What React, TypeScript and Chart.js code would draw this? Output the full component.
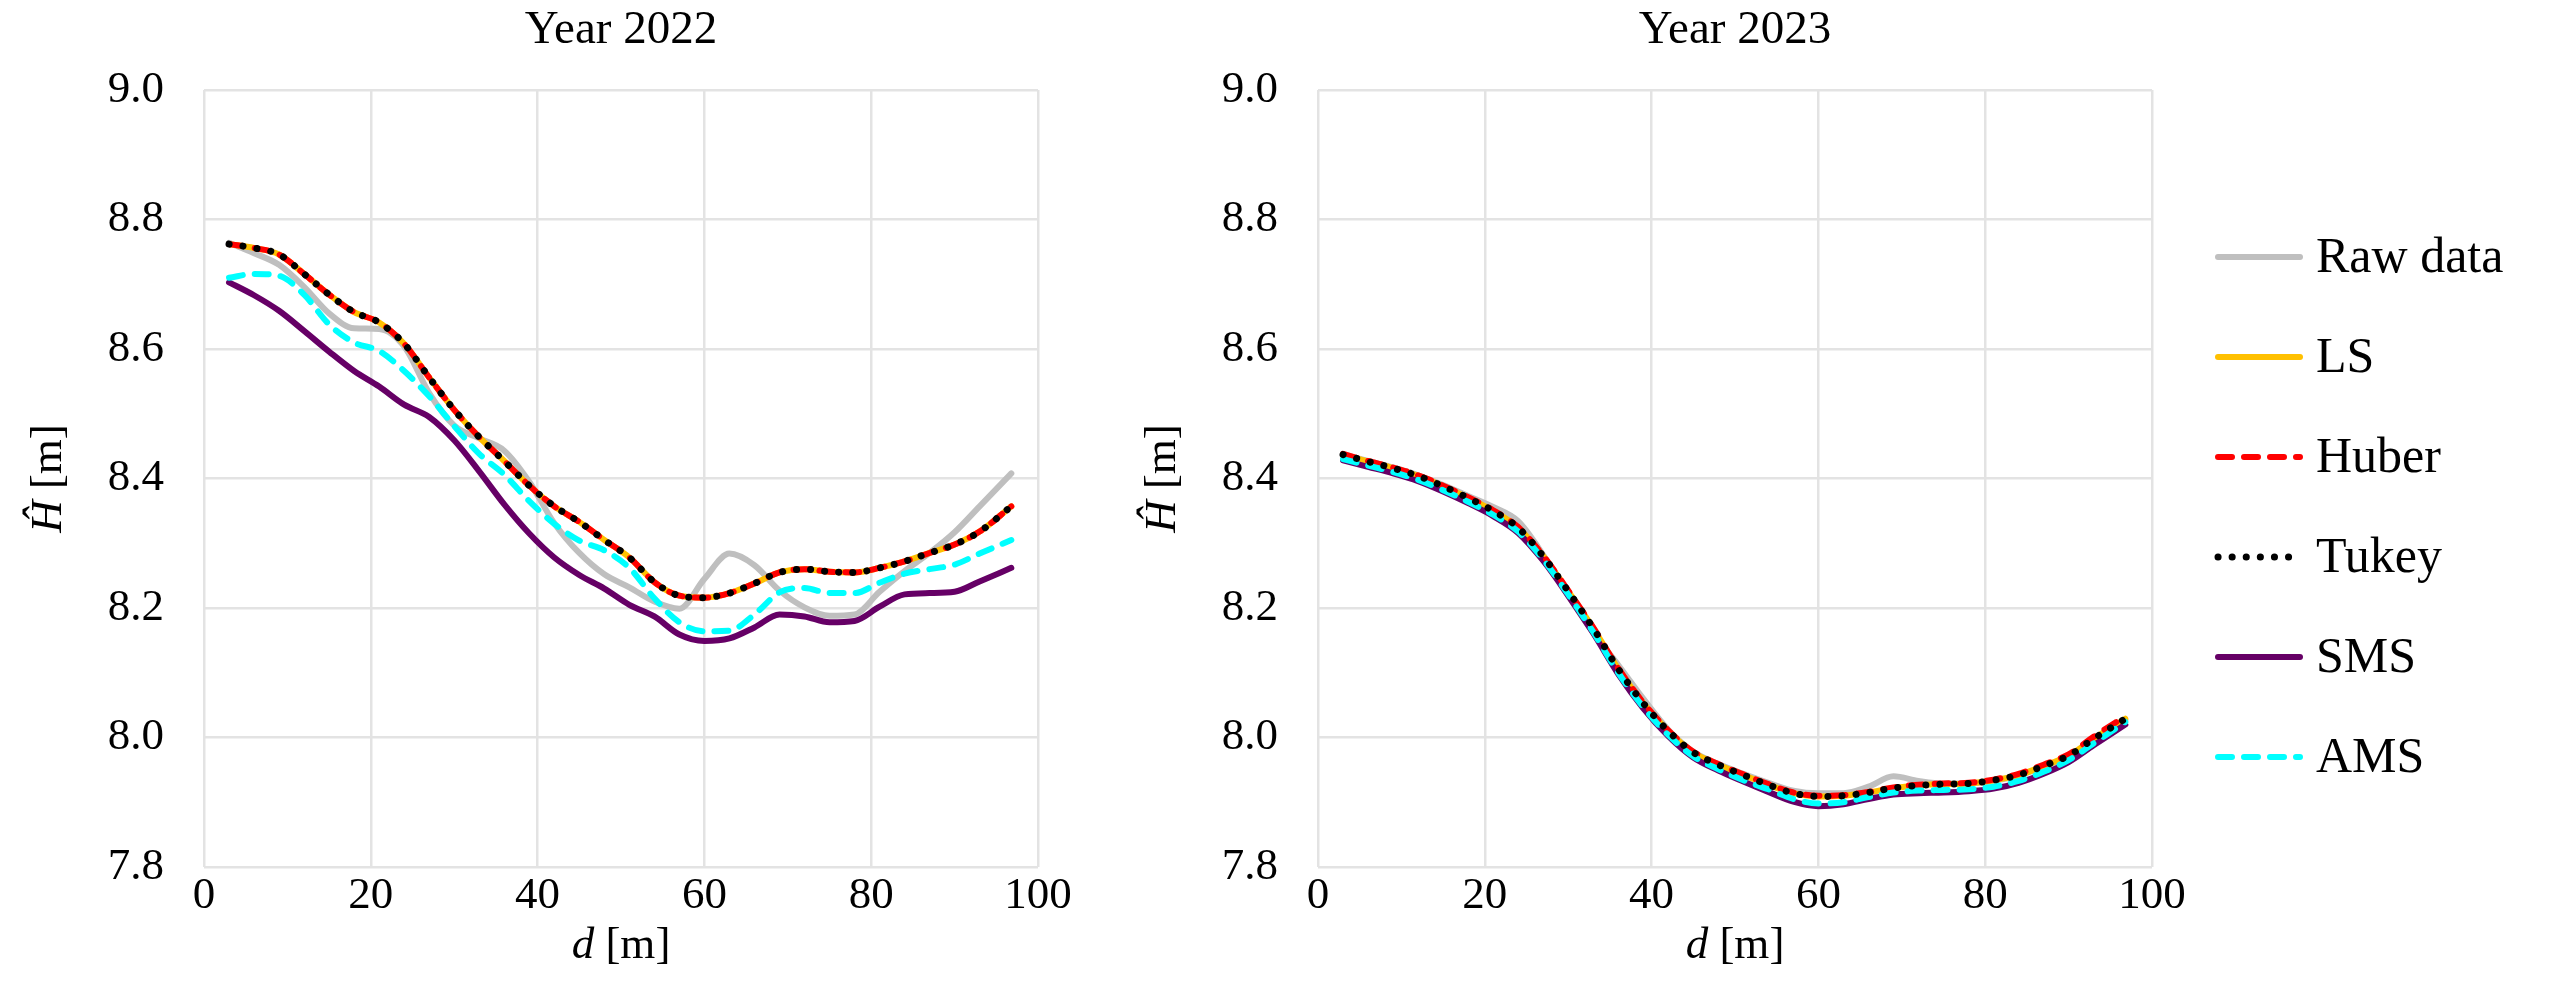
import React, { useEffect, useRef } from 'react';
import { Chart, registerables } from 'chart.js';

Chart.register(...registerables);

// ---------------- data ----------------
const distance = [3, 6, 9, 12, 15, 18, 21, 24, 27, 30, 33, 36, 39, 42, 45, 48, 51, 54, 57, 60, 63, 66, 69, 72, 75, 78, 81, 84, 87, 90, 93, 96.8];

const seriesNames = ['Raw data', 'LS', 'Huber', 'Tukey', 'SMS', 'AMS'];

const raw2022 = [8.764, 8.748, 8.730, 8.696, 8.655, 8.632, 8.631, 8.604, 8.532, 8.482, 8.462, 8.443, 8.395, 8.331, 8.285, 8.252, 8.232, 8.210, 8.199, 8.245, 8.284, 8.266, 8.227, 8.201, 8.188, 8.190, 8.225, 8.257, 8.285, 8.317, 8.357, 8.408];
const ls2022 = [8.762, 8.756, 8.746, 8.716, 8.684, 8.657, 8.641, 8.608, 8.556, 8.506, 8.464, 8.427, 8.389, 8.357, 8.333, 8.305, 8.278, 8.240, 8.219, 8.216, 8.223, 8.238, 8.255, 8.260, 8.256, 8.255, 8.262, 8.272, 8.285, 8.298, 8.318, 8.357];
const huber2022 = [8.762, 8.756, 8.746, 8.716, 8.684, 8.657, 8.641, 8.608, 8.556, 8.506, 8.464, 8.427, 8.389, 8.357, 8.333, 8.305, 8.278, 8.240, 8.219, 8.216, 8.223, 8.238, 8.255, 8.260, 8.256, 8.255, 8.262, 8.272, 8.285, 8.298, 8.318, 8.357];
const tukey2022 = [8.762, 8.756, 8.746, 8.716, 8.684, 8.657, 8.641, 8.608, 8.556, 8.506, 8.464, 8.427, 8.389, 8.357, 8.333, 8.305, 8.278, 8.240, 8.219, 8.216, 8.223, 8.238, 8.255, 8.260, 8.256, 8.255, 8.262, 8.272, 8.285, 8.298, 8.318, 8.357];
const sms2022 = [8.703, 8.683, 8.659, 8.628, 8.596, 8.566, 8.542, 8.514, 8.495, 8.459, 8.411, 8.360, 8.315, 8.278, 8.251, 8.230, 8.205, 8.187, 8.159, 8.149, 8.153, 8.170, 8.190, 8.187, 8.178, 8.180, 8.202, 8.221, 8.223, 8.225, 8.241, 8.262];
const ams2022 = [8.710, 8.716, 8.713, 8.684, 8.638, 8.610, 8.597, 8.566, 8.527, 8.481, 8.438, 8.406, 8.365, 8.330, 8.304, 8.289, 8.262, 8.215, 8.178, 8.164, 8.165, 8.190, 8.224, 8.231, 8.223, 8.223, 8.239, 8.253, 8.260, 8.267, 8.284, 8.305];

const raw2023 = [8.438, 8.427, 8.417, 8.405, 8.390, 8.373, 8.356, 8.334, 8.282, 8.219, 8.162, 8.112, 8.060, 8.012, 7.978, 7.959, 7.944, 7.930, 7.918, 7.914, 7.914, 7.924, 7.940, 7.933, 7.929, 7.929, 7.933, 7.941, 7.955, 7.971, 7.997, 8.027];
const ls2023 = [8.437, 8.426, 8.416, 8.404, 8.388, 8.370, 8.350, 8.324, 8.280, 8.226, 8.169, 8.106, 8.053, 8.010, 7.977, 7.958, 7.942, 7.927, 7.914, 7.909, 7.910, 7.915, 7.922, 7.926, 7.928, 7.929, 7.934, 7.942, 7.956, 7.972, 7.998, 8.029];
const huber2023 = [8.438, 8.427, 8.417, 8.405, 8.389, 8.371, 8.351, 8.325, 8.281, 8.227, 8.170, 8.107, 8.054, 8.011, 7.978, 7.959, 7.943, 7.928, 7.915, 7.910, 7.911, 7.916, 7.923, 7.927, 7.929, 7.930, 7.935, 7.944, 7.958, 7.974, 8.001, 8.033];
const tukey2023 = [8.437, 8.426, 8.416, 8.404, 8.388, 8.370, 8.350, 8.324, 8.280, 8.226, 8.169, 8.106, 8.053, 8.010, 7.977, 7.958, 7.942, 7.927, 7.914, 7.909, 7.910, 7.915, 7.922, 7.926, 7.928, 7.929, 7.934, 7.942, 7.956, 7.972, 7.998, 8.029];
const sms2023 = [8.428, 8.418, 8.408, 8.396, 8.380, 8.362, 8.342, 8.316, 8.273, 8.219, 8.161, 8.098, 8.045, 8.002, 7.969, 7.949, 7.932, 7.916, 7.901, 7.894, 7.897, 7.905, 7.912, 7.914, 7.915, 7.917, 7.921, 7.930, 7.944, 7.962, 7.988, 8.020];
const ams2023 = [8.430, 8.420, 8.410, 8.398, 8.382, 8.364, 8.344, 8.318, 8.275, 8.221, 8.163, 8.100, 8.047, 8.004, 7.971, 7.951, 7.934, 7.920, 7.905, 7.898, 7.900, 7.908, 7.915, 7.918, 7.919, 7.920, 7.924, 7.933, 7.947, 7.965, 7.991, 8.024];

const yMin = 7.8;
const yMax = 9.0;
const yStep = 0.2;
const xMin = 0;
const xMax = 100;
const xStep = 20;

// ---------------- styling / layout ----------------
const FONT = '"Liberation Serif", "Times New Roman", serif';
const H = 997;
const PLOT_LEFT = 204;
const PLOT_RIGHT = 1038;
const PLOT_TOP = 90;
const PLOT_BOTTOM = 867;
const CHART_OFFSET = 1114;
const TITLE_SIZE = 47;

const LEGEND_LINE_X0 = 1104; // canvas coords of the right chart
const LEGEND_LINE_X1 = 1186;
const LEGEND_TEXT_X = 1202;
const LEGEND_ROW0 = 257;
const LEGEND_PITCH = 100;

const STYLES = [
  { color: '#BFBFBF', width: 6, dash: [] as number[], cap: 'round', order: 6 },
  { color: '#FFC000', width: 6, dash: [] as number[], cap: 'round', order: 5 },
  { color: '#FF0000', width: 6, dash: [14, 12], cap: 'round', order: 3 },
  { color: '#000000', width: 7, dash: [0.1, 14], cap: 'round', order: 1 },
  { color: '#660066', width: 6, dash: [] as number[], cap: 'round', order: 4 },
  { color: '#00FFFF', width: 6, dash: [14, 12], cap: 'round', order: 2 },
];

function drawMixed(ctx: CanvasRenderingContext2D, parts: [string, string][], cx: number, cy: number) {
  let total = 0;
  for (const [t, f] of parts) {
    ctx.font = f;
    total += ctx.measureText(t).width;
  }
  let x = cx - total / 2;
  ctx.textAlign = 'left';
  ctx.textBaseline = 'middle';
  for (const [t, f] of parts) {
    ctx.font = f;
    ctx.fillText(t, x, cy);
    x += ctx.measureText(t).width;
  }
}

const axisTitlePlugin = {
  id: 'axisTitlePlugin',
  afterDraw(chart: any) {
    const { ctx, chartArea } = chart;
    const italic = `italic 45px ${FONT}`;
    const normal = `45px ${FONT}`;
    ctx.save();
    ctx.fillStyle = '#000';
    drawMixed(ctx, [['d', italic], [' [m]', normal]], (chartArea.left + chartArea.right) / 2, 946);
    ctx.translate(49, (chartArea.top + chartArea.bottom) / 2);
    ctx.rotate(-Math.PI / 2);
    drawMixed(ctx, [['\u0124', italic], [' [m]', normal]], 0, 0);
    ctx.restore();
  },
};

const sideLegendPlugin = {
  id: 'sideLegendPlugin',
  afterDraw(chart: any, _args: any, opts: any) {
    if (!opts || !opts.show) return;
    const { ctx } = chart;
    ctx.save();
    chart.data.datasets.forEach((ds: any, i: number) => {
      const y = LEGEND_ROW0 + i * LEGEND_PITCH;
      ctx.beginPath();
      ctx.setLineDash(ds.borderDash || []);
      ctx.lineCap = ds.borderCapStyle || 'butt';
      ctx.lineWidth = ds.borderWidth;
      ctx.strokeStyle = ds.borderColor;
      ctx.moveTo(LEGEND_LINE_X0, y);
      ctx.lineTo(LEGEND_LINE_X1, y);
      ctx.stroke();
      ctx.setLineDash([]);
      ctx.fillStyle = '#000';
      ctx.font = `50px ${FONT}`;
      ctx.textAlign = 'left';
      ctx.textBaseline = 'middle';
      ctx.fillText(ds.label, LEGEND_TEXT_X, y + 2);
    });
    ctx.restore();
  },
};

function buildConfig(title: string, series: number[][], showLegend: boolean, padRight: number): any {
  const datasets = series.map((vals, i) => ({
    label: seriesNames[i],
    data: distance.map((x, j) => ({ x, y: vals[j] })),
    borderColor: STYLES[i].color,
    backgroundColor: STYLES[i].color,
    borderWidth: STYLES[i].width,
    borderDash: STYLES[i].dash,
    borderCapStyle: STYLES[i].cap,
    borderJoinStyle: 'round',
    pointRadius: 0,
    pointHoverRadius: 0,
    cubicInterpolationMode: 'monotone',
    fill: false,
    order: STYLES[i].order,
  }));
  return {
    type: 'line',
    data: { datasets },
    plugins: [axisTitlePlugin, sideLegendPlugin],
    options: {
      responsive: false,
      animation: false,
      devicePixelRatio: 1,
      events: [],
      layout: { padding: { left: 0, right: padRight, top: 0, bottom: 0 } },
      plugins: {
        tooltip: { enabled: false },
        legend: { display: false },
        sideLegendPlugin: { show: showLegend },
        title: {
          display: true,
          text: title,
          color: '#000',
          fullSize: false,
          font: { family: FONT, size: TITLE_SIZE, weight: 'normal' },
          padding: { top: 2, bottom: PLOT_TOP - 2 - TITLE_SIZE * 1.2 },
        },
      },
      scales: {
        x: {
          type: 'linear',
          min: xMin,
          max: xMax,
          afterFit: (s: any) => { s.height = H - PLOT_BOTTOM; },
          ticks: { stepSize: xStep, color: '#000', padding: 2, font: { family: FONT, size: 45 } },
          grid: { color: '#E3E3E3', lineWidth: 2.5, drawTicks: false },
          border: { display: false },
        },
        y: {
          type: 'linear',
          min: yMin,
          max: yMax,
          afterFit: (s: any) => { s.width = PLOT_LEFT; },
          ticks: {
            stepSize: yStep,
            color: '#000',
            padding: 40,
            font: { family: FONT, size: 45 },
            callback: (v: any) => Number(v).toFixed(1),
          },
          grid: { color: '#E3E3E3', lineWidth: 2.5, drawTicks: false },
          border: { display: false },
        },
      },
    },
  };
}

function LineChart(props: { title: string; series: number[][]; width: number; left: number; showLegend: boolean }) {
  const ref = useRef<HTMLCanvasElement>(null);
  useEffect(() => {
    const padRight = props.width - PLOT_RIGHT;
    const chart = new Chart(ref.current as HTMLCanvasElement, buildConfig(props.title, props.series, props.showLegend, padRight));
    return () => chart.destroy();
  }, []);
  return (
    <canvas
      ref={ref}
      width={props.width}
      height={H}
      style={{ position: 'absolute', left: props.left, top: 0, width: props.width, height: H }}
    />
  );
}

export default function App() {
  return (
    <div style={{ position: 'absolute', left: 0, top: 0, width: 2566, height: H, background: '#fff', overflow: 'hidden' }}>
      <LineChart
        title="Year 2022"
        series={[raw2022, ls2022, huber2022, tukey2022, sms2022, ams2022]}
        width={CHART_OFFSET}
        left={0}
        showLegend={false}
      />
      <LineChart
        title="Year 2023"
        series={[raw2023, ls2023, huber2023, tukey2023, sms2023, ams2023]}
        width={2566 - CHART_OFFSET}
        left={CHART_OFFSET}
        showLegend={true}
      />
    </div>
  );
}
